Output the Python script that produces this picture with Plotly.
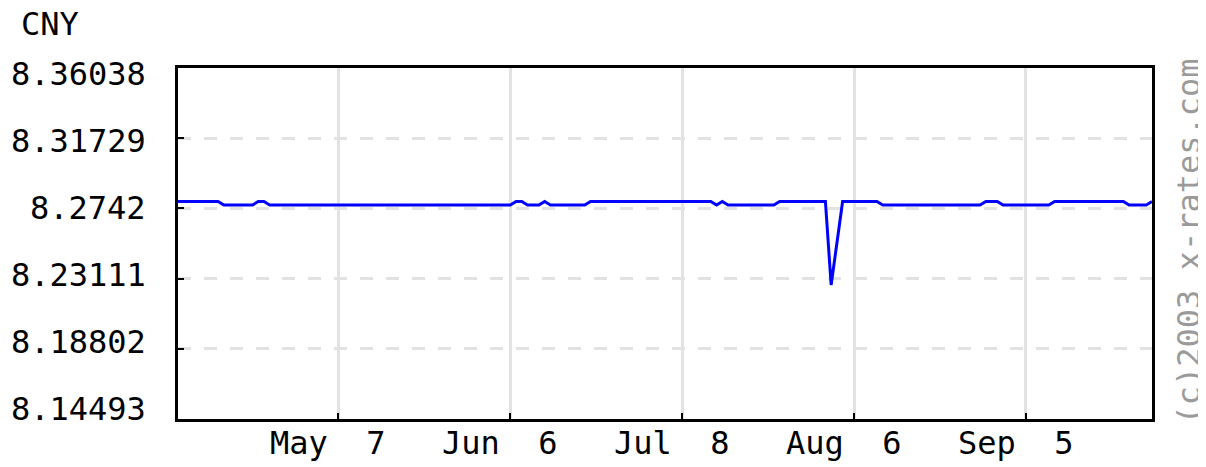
import numpy as np
import plotly.graph_objects as go

# ---- data ----
day_index = list(range(171))
rates = [
    8.2784, 8.2784, 8.2784, 8.2784, 8.2784, 8.2784, 8.2784, 8.2784,
    8.2763, 8.2763, 8.2763, 8.2763, 8.2763, 8.2763,
    8.2784, 8.2784,
    8.2763, 8.2763, 8.2763, 8.2763, 8.2763, 8.2763, 8.2763, 8.2763, 8.2763, 8.2763,
    8.2763, 8.2763, 8.2763, 8.2763, 8.2763, 8.2763, 8.2763, 8.2763, 8.2763, 8.2763,
    8.2763, 8.2763, 8.2763, 8.2763, 8.2763, 8.2763, 8.2763, 8.2763, 8.2763, 8.2763,
    8.2763, 8.2763, 8.2763, 8.2763, 8.2763, 8.2763, 8.2763, 8.2763, 8.2763, 8.2763,
    8.2763, 8.2763, 8.2763,
    8.2784, 8.2784,
    8.2763, 8.2763, 8.2763,
    8.2784,
    8.2763, 8.2763, 8.2763, 8.2763, 8.2763, 8.2763, 8.2763,
    8.2784, 8.2784, 8.2784, 8.2784, 8.2784, 8.2784, 8.2784, 8.2784, 8.2784, 8.2784,
    8.2784, 8.2784, 8.2784, 8.2784, 8.2784, 8.2784, 8.2784, 8.2784, 8.2784, 8.2784,
    8.2784, 8.2784,
    8.2763,
    8.2784,
    8.2763, 8.2763, 8.2763, 8.2763, 8.2763, 8.2763, 8.2763, 8.2763, 8.2763,
    8.2784, 8.2784, 8.2784, 8.2784, 8.2784, 8.2784, 8.2784, 8.2784, 8.2784,
    8.2272,
    8.2536,
    8.2784, 8.2784, 8.2784, 8.2784, 8.2784, 8.2784, 8.2784,
    8.2763, 8.2763, 8.2763, 8.2763, 8.2763, 8.2763, 8.2763, 8.2763, 8.2763, 8.2763,
    8.2763, 8.2763, 8.2763, 8.2763, 8.2763, 8.2763, 8.2763, 8.2763,
    8.2784, 8.2784, 8.2784,
    8.2763, 8.2763, 8.2763, 8.2763, 8.2763, 8.2763, 8.2763, 8.2763, 8.2763,
    8.2784, 8.2784, 8.2784, 8.2784, 8.2784, 8.2784, 8.2784, 8.2784, 8.2784, 8.2784,
    8.2784, 8.2784, 8.2784,
    8.2763, 8.2763, 8.2763, 8.2763,
    8.2784,
]
y_ticks = [8.36038, 8.31729, 8.2742, 8.23111, 8.18802, 8.14493]
y_tick_labels = ["8.36038", "8.31729", "8.2742", "8.23111", "8.18802", "8.14493"]
x_ticks = [28, 58, 88, 118, 148]
x_tick_labels = ["May\u00a0\u00a07", "Jun\u00a0\u00a06", "Jul\u00a0\u00a08", "Aug\u00a0\u00a06", "Sep\u00a0\u00a05"]
currency = "CNY"
watermark = "(c)2003 x-rates.com"

FONT = "DejaVu Sans Mono"
FS = 32

fig = go.Figure()
fig.add_trace(go.Scatter(
    x=day_index, y=rates, mode="lines",
    line=dict(color="#0000ff", width=3),
    hoverinfo="skip", showlegend=False,
))

fig.update_xaxes(
    range=[day_index[0], day_index[-1]],
    tickvals=x_ticks, showticklabels=False,
    ticks="inside", ticklen=6, tickwidth=2, tickcolor="black",
    showgrid=True, gridcolor="#e2e2e2", gridwidth=3,
    showline=True, linecolor="black", linewidth=3, mirror=True,
    zeroline=False, fixedrange=True,
)
fig.update_yaxes(
    range=[y_ticks[-1], y_ticks[0]],
    tickvals=y_ticks[1:-1], showticklabels=False,
    ticks="inside", ticklen=6, tickwidth=2, tickcolor="black",
    showgrid=True, gridcolor="#e2e2e2", gridwidth=2.5, griddash="13px,13px",
    showline=True, linecolor="black", linewidth=3, mirror=True,
    zeroline=False, fixedrange=True,
)

annotations = []
label_pos = np.linspace(0.976, 0.022, len(y_tick_labels))
for txt, p in zip(y_tick_labels, label_pos):
    annotations.append(dict(
        text=txt, xref="paper", yref="paper", x=0, y=p,
        xanchor="right", yanchor="middle", xshift=-30, yshift=2, showarrow=False,
        font=dict(family=FONT, size=FS, color="black"),
    ))
for txt, v in zip(x_tick_labels, x_ticks):
    annotations.append(dict(
        text=txt, xref="x", yref="paper", x=v, y=0,
        xanchor="center", yanchor="top", xshift=-10, yshift=-3, showarrow=False,
        font=dict(family=FONT, size=FS, color="black"),
    ))
annotations.append(dict(
    text=currency, xref="paper", yref="paper", x=0, y=1,
    xanchor="left", yanchor="middle", xshift=-159, yshift=44, showarrow=False,
    height=28, valign="middle",
    font=dict(family=FONT, size=FS, color="black"),
))
annotations.append(dict(
    text=watermark, xref="paper", yref="paper", x=1, y=0.5,
    xanchor="center", yanchor="middle", xshift=36, yshift=2, textangle=-90,
    showarrow=False,
    font=dict(family=FONT, size=FS, color="#9a9a9a"),
))

# the page has an 8px body margin; margins are set so the frame lands where the reference has it
fig.update_layout(
    width=1198, height=459,
    margin=dict(l=170, r=54, t=60, b=48),
    paper_bgcolor="white", plot_bgcolor="white",
    annotations=annotations,
)

fig.write_html("out.html")
